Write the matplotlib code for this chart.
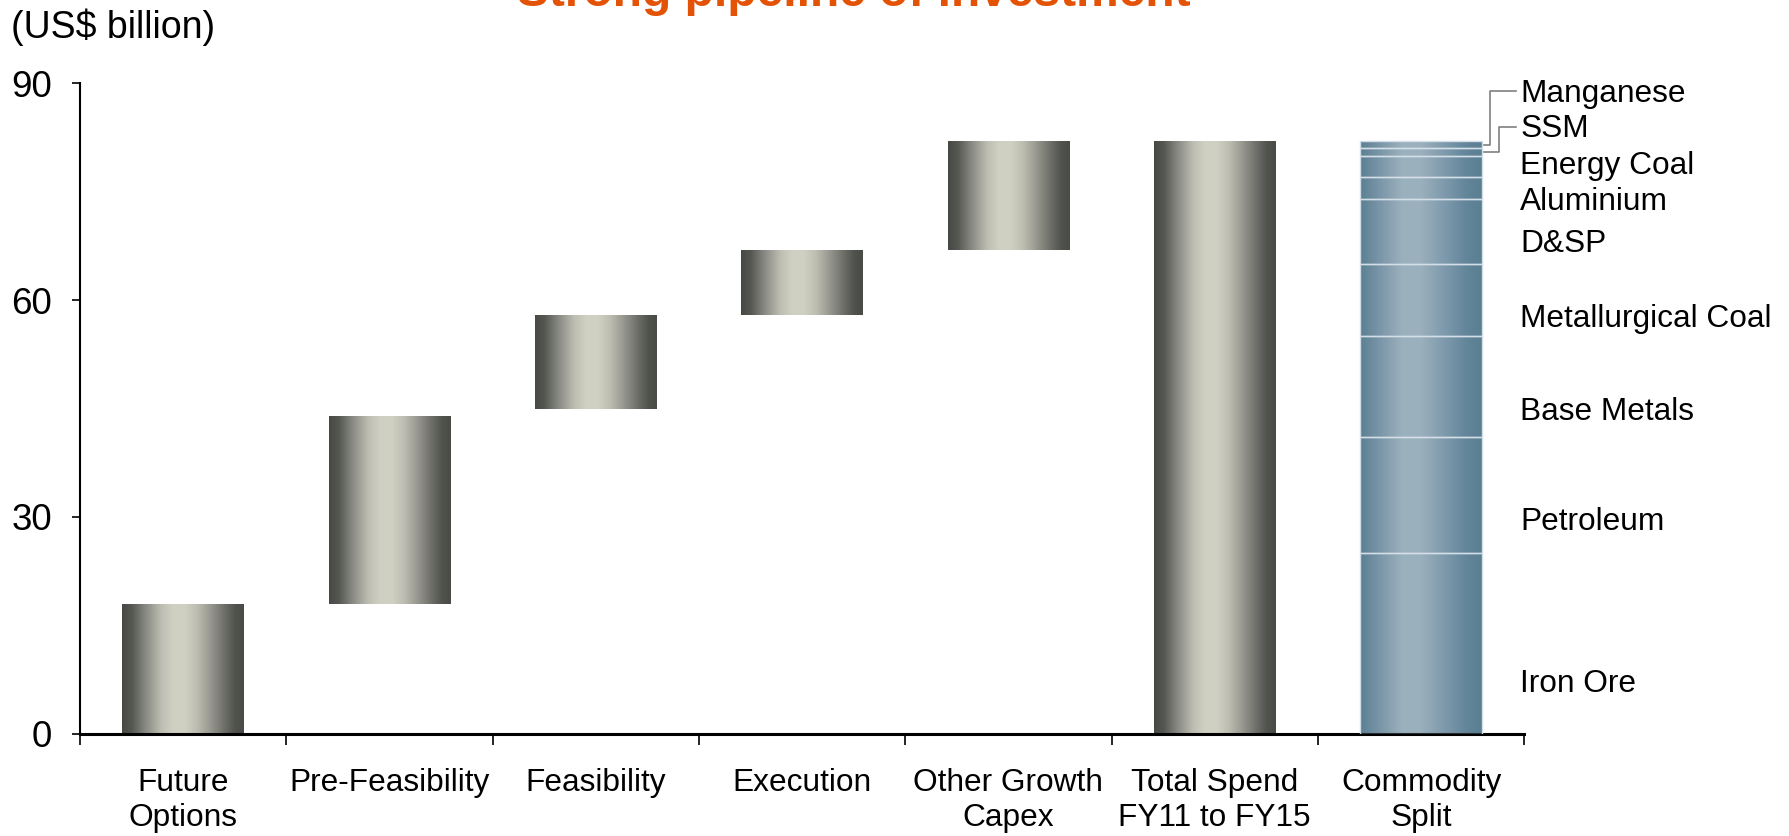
import numpy as np
import matplotlib
matplotlib.use("Agg")
import matplotlib.pyplot as plt
from matplotlib.colors import LinearSegmentedColormap

plt.rcParams['font.family'] = ['Liberation Sans', 'DejaVu Sans']

# Investment pipeline (US$ billion): waterfall stages
stages = ["Future\nOptions", "Pre-Feasibility", "Feasibility", "Execution",
          "Other Growth\nCapex", "Total Spend\nFY11 to FY15", "Commodity\nSplit"]
stage_bottom = [0, 18, 45, 58, 67, 0]
stage_top = [18, 44, 58, 67, 82, 82]

# Commodity split of the total, stacked bottom-up
commodities = ["Iron Ore", "Petroleum", "Base Metals", "Metallurgical Coal", "D&SP",
               "Aluminium", "Energy Coal", "SSM", "Manganese"]
commodity_values = [25, 16, 14, 10, 9, 3, 3, 1, 1]

# Label baselines for the commodity names (layout only)
label_baseline = [5.8, 28.2, 43.4, 56.3, 66.7, 72.5, 77.5, 82.5, 87.4]

yticks = [0, 30, 60, 90]

FS = 22.8

grey_cmap = LinearSegmentedColormap.from_list("grey_cyl", [
    (0.00, "#474945"), (0.08, "#555752"), (0.18, "#83847e"), (0.32, "#bdbdb2"),
    (0.42, "#d0d0c3"), (0.52, "#cfcfc2"), (0.62, "#bcbcb0"), (0.72, "#9a9a92"),
    (0.84, "#6e6f69"), (0.93, "#50524d"), (1.00, "#494b46")])
blue_cmap = LinearSegmentedColormap.from_list("blue_cyl", [
    (0.00, "#5b7f93"), (0.15, "#7894a6"), (0.35, "#9cb1be"), (0.50, "#9bb0bd"),
    (0.70, "#7d99ab"), (0.88, "#62859a"), (1.00, "#5a7e92")])


def shade_bar(ax, rect, cmap):
    x0, y0 = rect.get_x(), rect.get_y()
    w, h = rect.get_width(), rect.get_height()
    grad = np.linspace(0, 1, 256).reshape(1, -1)
    im = ax.imshow(grad, cmap=cmap, aspect="auto", extent=(x0, x0 + w, y0, y0 + h),
                   interpolation="bicubic", zorder=2)
    im.set_clip_path(rect)


fig = plt.figure(figsize=(17.89, 8.36), dpi=100)
ax = fig.add_axes([0.0447, 0.1223, 0.8073, 0.7781])

width = 0.59
x = np.arange(len(stages))

for i, (b, t) in enumerate(zip(stage_bottom, stage_top)):
    rect = ax.bar(x[i], t - b, bottom=b, width=width, facecolor="none",
                  edgecolor="none", zorder=1)[0]
    shade_bar(ax, rect, grey_cmap)

# Stacked commodity bar
ci = len(stages) - 1
cum = np.concatenate([[0], np.cumsum(commodity_values)])
total_rect = ax.bar(x[ci], cum[-1], width=width, facecolor="none",
                    edgecolor="none", zorder=1)[0]
shade_bar(ax, total_rect, blue_cmap)
for k, v in enumerate(commodity_values):
    ax.bar(x[ci], v, bottom=cum[k], width=width, facecolor="none",
           edgecolor="#d3dee6", linewidth=1.0, zorder=3)

# Commodity labels, with leaders for the two thin top slices
bar_right = x[ci] + width / 2
label_x = 6.48
leader_x = {"SSM": 6.379, "Manganese": 6.335}
for k, name in enumerate(commodities):
    ax.text(label_x, label_baseline[k], name, fontsize=FS, va="baseline",
            ha="left", clip_on=False)
    if name in leader_x:
        mid = cum[k] + commodity_values[k] / 2
        ly = label_baseline[k] + 1.5
        ax.plot([bar_right + 0.01, leader_x[name], leader_x[name], label_x - 0.02],
                [mid, mid, ly, ly], color="#7f7f7f", lw=1.2,
                clip_on=False, zorder=4)

ax.set_xlim(-0.5, len(stages) - 0.5)
ax.set_ylim(0, 90)
ax.set_yticks(yticks)
ax.tick_params(axis="y", labelsize=26.5, length=6, width=1.2, pad=14, direction="out")

ax.set_xticks(np.arange(-0.5, len(stages)), labels=[""] * (len(stages) + 1))
ax.set_xticks(x, labels=stages, minor=True)
ax.tick_params(axis="x", which="major", length=8, width=1.2, direction="out")
ax.tick_params(axis="x", which="minor", length=0, labelsize=FS, pad=25)

for s in ("top", "right"):
    ax.spines[s].set_visible(False)
ax.spines["left"].set_linewidth(1.5)
ax.spines["bottom"].set_linewidth(2.2)

fig.text(0.006, 0.968, "(US$ billion)", fontsize=27, ha="left", va="center")
fig.text(0.4775, 0.993, "Strong pipeline of investment", fontsize=34.5,
         fontweight="bold", color="#e35205", ha="center", va="baseline")

fig.savefig("out.png", dpi=100)
